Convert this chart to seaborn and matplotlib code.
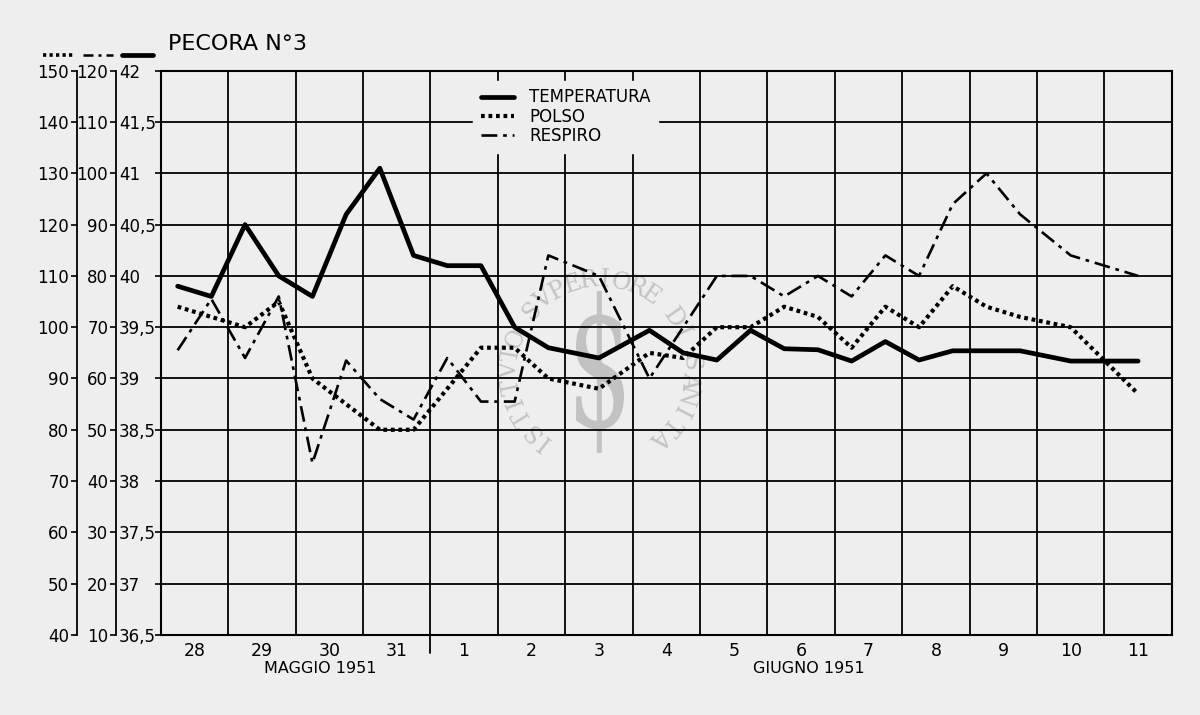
import numpy as np
import pandas as pd
import matplotlib
matplotlib.use("Agg")
import matplotlib.pyplot as plt
from matplotlib.lines import Line2D
from matplotlib.textpath import TextPath
from matplotlib.patches import PathPatch
from matplotlib.font_manager import FontProperties
from matplotlib.transforms import Affine2D
import seaborn as sns

# giorni sull'asse x (28-31 maggio, 1-11 giugno 1951)
giorni = ["28", "29", "30", "31", "1", "2", "3", "4", "5", "6", "7", "8", "9", "10", "11"]

# istante della misura, in giorni dal 28 maggio (mattina / sera)
tempo = [0.25, 0.75, 1.25, 1.75, 2.25, 2.75, 3.25, 3.75, 4.25, 4.75, 5.25, 5.75, 6.5,
         7.25, 7.75, 8.25, 8.75, 9.25, 9.75, 10.25, 10.75, 11.25, 11.75, 12.25, 12.75,
         13.5, 14.5]

temperatura = [39.9, 39.8, 40.5, 40.0, 39.8, 40.6, 41.05, 40.2, 40.1, 40.1, 39.5, 39.3, 39.2,
               39.47, 39.25, 39.18, 39.47, 39.29, 39.28, 39.17, 39.36, 39.18, 39.27, 39.27, 39.27,
               39.17, 39.17]
polso = [104, 102, 100, 105, 90, 85, 80, 80, 88, 96, 96, 90, 88,
         95, 94, 100, 100, 104, 102, 96, 104, 100, 108, 104, 102,
         100, 87]
respiro = [65.5, 75.5, 64, 76, 43.5, 63.5, 56, 52, 64, 55.5, 55.5, 84, 80,
           60, 70, 80, 80, 76, 80, 76, 84, 80, 94, 100, 92,
           84, 80]

# scale dei tre assi a sinistra
tick_temp = np.arange(36.5, 42.01, 0.5)
tick_polso = list(range(40, 151, 10))
tick_resp = list(range(10, 121, 10))

df = pd.DataFrame({"tempo": tempo, "temperatura": temperatura,
                   "polso": polso, "respiro": respiro})

sns.set_theme(style="white")
plt.rcParams["font.family"] = ["DejaVu Sans"]
plt.rcParams["text.color"] = "black"
bg = "#eeeeee"

fig = plt.figure(figsize=(12, 7.15), dpi=100, facecolor=bg)
ax = fig.add_axes([0.134, 0.112, 0.8425, 0.789])
ax.set_facecolor("none")
ax_p = ax.twinx()
ax_r = ax.twinx()

# linee
sns.lineplot(data=df, x="tempo", y="temperatura", ax=ax, color="black", lw=3.4,
             estimator=None, sort=False, legend=False)
sns.lineplot(data=df, x="tempo", y="polso", ax=ax_p, color="black", lw=3.0,
             linestyle=(0, (0.9, 0.9)), estimator=None, sort=False, legend=False)
sns.lineplot(data=df, x="tempo", y="respiro", ax=ax_r, color="black", lw=1.9,
             linestyle=(0, (6, 2.2, 1.4, 2.2)), estimator=None, sort=False, legend=False)

# asse temperatura + griglia
ax.set_xlim(0, 15)
ax.set_ylim(36.5, 42)
ax.set_xticks(range(16))
ax.set_xticklabels([])
ax.set_xticks(np.arange(15) + 0.5, minor=True)
ax.set_xticklabels(giorni, minor=True)
ax.tick_params(axis="x", which="both", length=0)
ax.tick_params(axis="x", which="minor", pad=5, labelsize=12.5, colors="black")
ax.grid(True, which="major", color="black", lw=1.3)
ax.set_yticks(tick_temp)
ax.set_yticklabels([f"{v:g}".replace(".", ",") for v in tick_temp])
ax.tick_params(axis="y", left=True, direction="out", length=4.3, width=1.2,
               pad=25.9, labelsize=12, colors="black")
for t in ax.get_yticklabels():
    t.set_horizontalalignment("left")
for s in ax.spines.values():
    s.set_color("black")
    s.set_linewidth(1.5)
ax.set_xlabel("")
ax.set_ylabel("")

# assi polso e respiro spostati a sinistra
for a, lim, ticks, pos in [(ax_p, (40, 150), tick_polso, -0.0831),
                           (ax_r, (10, 120), tick_resp, -0.0445)]:
    a.set_ylim(*lim)
    a.set_yticks(ticks)
    a.yaxis.set_ticks_position("left")
    a.yaxis.set_label_position("left")
    for k in ["top", "right", "bottom"]:
        a.spines[k].set_visible(False)
    a.spines["left"].set_visible(True)
    a.spines["left"].set_position(("axes", pos))
    a.spines["left"].set_color("black")
    a.spines["left"].set_linewidth(1.3)
    a.tick_params(axis="y", left=True, right=False, labelleft=True, labelright=False,
                  direction="out", length=4.3, width=1.2, pad=1.2, labelsize=12,
                  colors="black")
    a.set_ylabel("")
    a.set_xlabel("")

# separatore maggio / giugno
ax.plot([4, 4], [0, -0.032], transform=ax.get_xaxis_transform(), color="black",
        lw=1.3, clip_on=False)
ax.text(2.36, -0.059, "MAGGIO 1951", transform=ax.get_xaxis_transform(),
        ha="center", va="center", fontsize=11.5)
ax.text(9.61, -0.059, "GIUGNO 1951", transform=ax.get_xaxis_transform(),
        ha="center", va="center", fontsize=11.5)

# legenda
handles = [ax.lines[0], ax_p.lines[0], ax_r.lines[0]]
leg = ax_r.legend(handles, ["TEMPERATURA", "POLSO", "RESPIRO"], loc="upper left",
                  bbox_to_anchor=(0.309, 0.982), frameon=True, facecolor=bg, edgecolor=bg,
                  framealpha=1, fancybox=False, fontsize=12, handlelength=2.0,
                  handletextpad=0.9, labelspacing=0.08, borderpad=0.45, borderaxespad=0)
for t in leg.get_texts():
    t.set_color("black")

# titolo e chiave degli assi
fig.text(168 / 1200, 1 - 44 / 715, "PECORA N°3", ha="left", va="center", fontsize=16)
ky = 1 - 54.5 / 715
fig.add_artist(Line2D([43 / 1200, 74 / 1200], [ky, ky], color="black", lw=2.6,
                      linestyle=(0, (0.9, 0.9))))
fig.add_artist(Line2D([83 / 1200, 113 / 1200], [ky, ky], color="black", lw=1.8,
                      linestyle=(0, (4, 2, 1.2, 2))))
fig.add_artist(Line2D([122 / 1200, 153 / 1200], [ky, ky], color="black", lw=3.4))

# filigrana dell'archivio (timbro grigio al centro)
wm = "#c2c2c2"
cx, cy, rr = 600, 345, 90
scritta = "ISTITVTO SVPERIORE DI SANITA"
ang = np.linspace(232, -48, len(scritta))
for ch, a in zip(scritta, ang):
    r = np.deg2rad(a)
    fig.text((cx + rr * np.cos(r)) / 1200, (cy + rr * np.sin(r)) / 715, ch,
             rotation=a - 90, ha="center", va="center", fontsize=17, color=wm,
             family="DejaVu Serif", zorder=-1)
tp = TextPath((0, 0), "$", size=100, prop=FontProperties(family="DejaVu Serif"))
bb = tp.get_extents()
tr = Affine2D().translate(-bb.x0, -bb.y0).scale(48 / bb.width, 162 / bb.height).translate(576, 262)
fig.add_artist(PathPatch(tr.transform_path(tp), facecolor=wm, edgecolor="none",
                         transform=None, zorder=-1))

fig.savefig("out.png", dpi=100, facecolor=bg)
